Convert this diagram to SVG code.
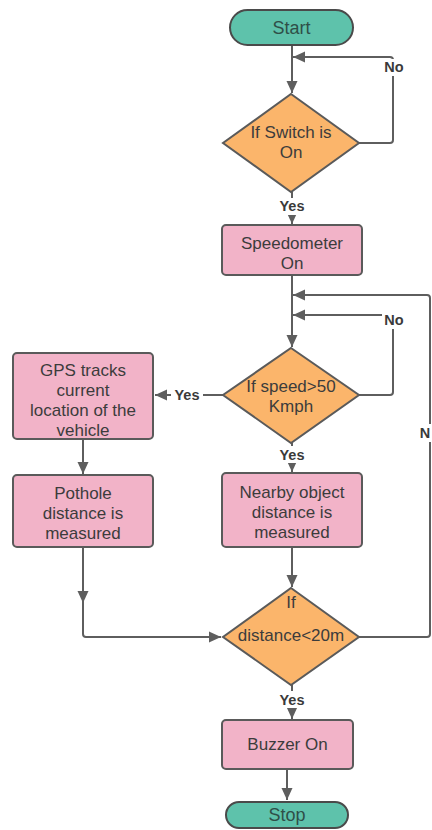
<svg xmlns="http://www.w3.org/2000/svg" width="432" height="830" viewBox="0 0 432 830">
  <style>
    .term { fill: #5ec2ab; stroke: #4a4a4a; stroke-width: 2; }
    .proc { fill: #f2b3c8; stroke: #5a5a5a; stroke-width: 2; }
    .dec { fill: #fbb56b; stroke: #5a5a5a; stroke-width: 2; }
    .txt { font-family: "Liberation Sans", Arial, sans-serif; font-size: 17px; fill: #3c3c3c; text-anchor: middle; dominant-baseline: central; }
    .ttxt { font-family: "Liberation Sans", Arial, sans-serif; font-size: 18px; fill: #2f4f48; text-anchor: middle; dominant-baseline: central; }
    .wire { fill: none; stroke: #5e5e5e; stroke-width: 2; }
    .lbl { font-family: "Liberation Sans", Arial, sans-serif; font-size: 14.5px; font-weight: bold; fill: #3a3a3a; text-anchor: middle; dominant-baseline: central; }
    .lblbg { fill: #ffffff; }
  </style>
  <defs>
    <marker id="arr" viewBox="0 0 12 12" refX="12" refY="6" markerWidth="12" markerHeight="12" markerUnits="userSpaceOnUse" orient="auto">
      <path d="M0 0.5 L12 6 L0 11.5 Z" fill="#5e5e5e"/>
    </marker>
  </defs>

  <!-- connectors -->
  <g id="connectors">
    <path class="wire" d="M292 45 V93" marker-end="url(#arr)"/>
    <path class="wire" d="M359 143 H390 Q393 143 393 140 V60 Q393 57 390 57 H293" marker-end="url(#arr)"/>
    <path class="wire" d="M292 192 V224" marker-end="url(#arr)"/>
    <path class="wire" d="M292 275 V347" marker-end="url(#arr)"/>
    <path class="wire" d="M359 395 H390 Q393 395 393 392 V318 Q393 315 390 315 H293" marker-end="url(#arr)"/>
    <path class="wire" d="M223 395 H155" marker-end="url(#arr)"/>
    <path class="wire" d="M292 443 V472" marker-end="url(#arr)"/>
    <path class="wire" d="M83 439 V474" marker-end="url(#arr)"/>
    <path class="wire" d="M83 547 V603" marker-end="url(#arr)"/>
    <path class="wire" d="M83 600 V634 Q83 637 86 637 H221" marker-end="url(#arr)"/>
    <path class="wire" d="M292 547 V587" marker-end="url(#arr)"/>
    <path class="wire" d="M359 637 H427 Q430 637 430 634 V298 Q430 295 427 295 H293" marker-end="url(#arr)"/>
    <path class="wire" d="M292 685 V719" marker-end="url(#arr)"/>
    <path class="wire" d="M287 769 V800" marker-end="url(#arr)"/>

    <!-- connector labels -->
    <rect class="lblbg" x="382" y="59" width="24" height="17"/>
    <text class="lbl" x="394" y="67">No</text>
    <rect class="lblbg" x="276" y="198" width="32" height="17"/>
    <text class="lbl" x="292" y="206">Yes</text>
    <rect class="lblbg" x="382" y="312" width="24" height="17"/>
    <text class="lbl" x="394" y="320">No</text>
    <rect class="lblbg" x="171" y="387" width="32" height="17"/>
    <text class="lbl" x="187" y="395">Yes</text>
    <rect class="lblbg" x="276" y="446" width="32" height="17"/>
    <text class="lbl" x="292" y="455">Yes</text>
    <rect class="lblbg" x="417" y="424" width="15" height="18"/>
    <text class="lbl" x="425" y="433">N</text>
    <rect class="lblbg" x="276" y="691" width="32" height="17"/>
    <text class="lbl" x="292" y="700">Yes</text>
  </g>

  <g id="start">
    <rect class="term" x="230" y="10" width="123" height="35" rx="17.5"/>
    <text class="ttxt" x="291.5" y="27.5">Start</text>
  </g>

  <g id="switch-check">
    <polygon class="dec" points="291,94 359,143 291,192 223,143"/>
    <text class="txt" x="291" y="132">If Switch is</text>
    <text class="txt" x="291" y="152">On</text>
  </g>

  <g id="speedometer">
    <rect class="proc" x="222" y="225" width="140" height="50" rx="4"/>
    <text class="txt" x="292" y="243">Speedometer</text>
    <text class="txt" x="292" y="263">On</text>
  </g>

  <g id="speed-check">
    <polygon class="dec" points="291,348 359,395 291,443 223,395"/>
    <text class="txt" x="291" y="386">If speed&gt;50</text>
    <text class="txt" x="291" y="406">Kmph</text>
  </g>

  <g id="gps">
    <rect class="proc" x="13" y="353" width="140" height="86" rx="4"/>
    <text class="txt" x="83" y="370">GPS tracks</text>
    <text class="txt" x="83" y="390">current</text>
    <text class="txt" x="83" y="410">location of the</text>
    <text class="txt" x="83" y="430">vehicle</text>
  </g>

  <g id="pothole">
    <rect class="proc" x="13" y="475" width="140" height="72" rx="4"/>
    <text class="txt" x="83" y="493">Pothole</text>
    <text class="txt" x="83" y="513">distance is</text>
    <text class="txt" x="83" y="533">measured</text>
  </g>

  <g id="nearby">
    <rect class="proc" x="222" y="473" width="140" height="74" rx="4"/>
    <text class="txt" x="292" y="492">Nearby object</text>
    <text class="txt" x="292" y="512">distance is</text>
    <text class="txt" x="292" y="532">measured</text>
  </g>

  <g id="distance-check">
    <polygon class="dec" points="291,588 359,637 291,685 223,637"/>
    <text class="txt" x="291" y="602">If</text>
    <text class="txt" x="291" y="635">distance&lt;20m</text>
  </g>

  <g id="buzzer">
    <rect class="proc" x="222" y="720" width="131" height="49" rx="4"/>
    <text class="txt" x="287.5" y="744">Buzzer On</text>
  </g>

  <g id="stop">
    <rect class="term" x="226" y="802" width="122" height="26" rx="13"/>
    <text class="ttxt" x="287" y="815">Stop</text>
  </g>
</svg>
